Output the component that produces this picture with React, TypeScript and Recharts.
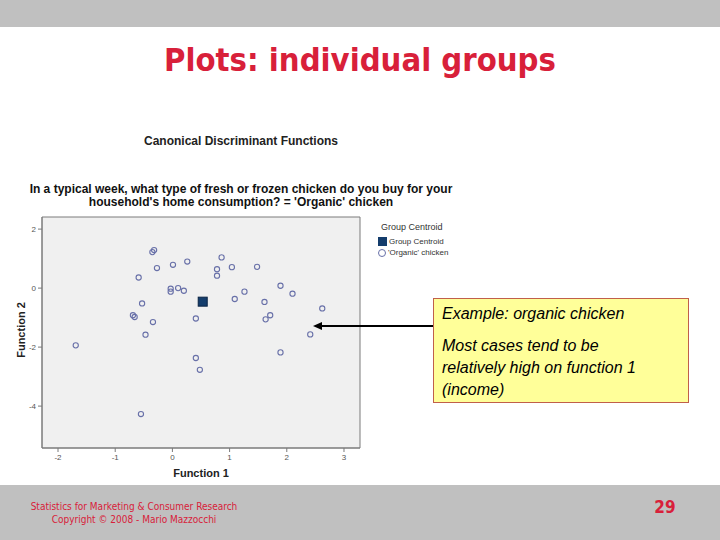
import React from "react";
import {
  ScatterChart,
  Scatter,
  XAxis,
  YAxis,
  ReferenceArea,
  Legend,
} from "recharts";

// canonical discriminant scores, 'Organic' chicken group
const function1 = [
  -0.35, -0.32, -0.27, 0.01, 0.26, 0.86, 0.78, 0.78, 1.04, 1.48, -0.59, -0.03,
  -0.03, 0.1, 0.2, 1.26, 1.09, 1.89, 2.1, -0.53, 1.61, 2.62, -0.69, -0.66,
  -0.34, 0.41, 1.63, 1.71, -0.47, 2.41, -1.69, 0.41, 0.48, 1.89, -0.55,
];
const function2 = [
  1.22, 1.29, 0.68, 0.79, 0.9, 1.04, 0.64, 0.42, 0.71, 0.72, 0.36, -0.02,
  -0.12, 0.0, -0.09, -0.12, -0.37, 0.08, -0.19, -0.52, -0.47, -0.69, -0.92,
  -0.98, -1.15, -1.03, -1.06, -0.92, -1.58, -1.57, -1.94, -2.37, -2.77, -2.18,
  -4.27,
];
const centroid = [{ x: 0.53, y: -0.46 }];

const xTicks = [-2, -1, 0, 1, 2, 3];
const yTicks = [-4, -2, 0, 2];

const cases = function1.map((x, i) => ({ x, y: function2[i] }));

const XMIN = -2.28;
const XMAX = 3.28;
const YMIN = -5.42;
const YMAX = 2.41;

const arial = "'Liberation Sans', Arial, sans-serif";
const tahoma = "'DejaVu Sans Condensed', Tahoma, sans-serif";
const red = "#d8203a";
const dotColor = "#6870a8";
const centroidColor = "#143d6c";

function CaseDot(props: any) {
  const { cx, cy } = props;
  return <circle cx={cx} cy={cy} r={2.6} fill="none" stroke={dotColor} strokeWidth={1.1} />;
}

function CentroidDot(props: any) {
  const { cx, cy } = props;
  return (
    <rect x={cx - 4.5} y={cy - 4.5} width={9} height={9} fill={centroidColor} stroke="#0b2445" strokeWidth={1} />
  );
}

function LegendBox() {
  return (
    <div style={{ fontFamily: arial, fontSize: 8, color: "#333", lineHeight: "11px", textAlign: "left" }}>
      <div style={{ fontSize: 9, marginBottom: 3, marginLeft: 3 }}>Group Centroid</div>
      <div style={{ display: "flex", alignItems: "center", gap: 2 }}>
        <span style={{ display: "inline-block", width: 9, height: 9, background: centroidColor }} />
        Group Centroid
      </div>
      <div style={{ display: "flex", alignItems: "center", gap: 2 }}>
        <span
          style={{
            display: "inline-block",
            width: 8,
            height: 8,
            borderRadius: "50%",
            border: `1px solid ${dotColor}`,
            boxSizing: "border-box",
          }}
        />
        'Organic' chicken
      </div>
    </div>
  );
}

export default function App() {
  return (
    <div
      style={{
        position: "absolute",
        left: 0,
        top: 0,
        width: 720,
        height: 540,
        background: "#fff",
        overflow: "hidden",
        fontFamily: arial,
      }}
    >
      <div style={{ position: "absolute", left: 0, top: 0, width: 720, height: 27, background: "#c0c0c0" }} />
      <div
        style={{
          position: "absolute",
          left: 0,
          top: 39,
          width: 720,
          textAlign: "center",
          color: red,
          fontFamily: tahoma,
          fontWeight: "bold",
          fontSize: 32.5,
          lineHeight: "42px",
        }}
      >
        Plots: individual groups
      </div>

      <div
        style={{
          position: "absolute",
          left: 0,
          top: 134,
          width: 482,
          textAlign: "center",
          fontSize: 12,
          fontWeight: "bold",
          color: "#222",
        }}
      >
        Canonical Discriminant Functions
      </div>
      <div
        style={{
          position: "absolute",
          left: 0,
          top: 183,
          width: 482,
          textAlign: "center",
          fontSize: 12,
          fontWeight: "bold",
          color: "#111",
          lineHeight: "13px",
        }}
      >
        In a typical week, what type of fresh or frozen chicken do you buy for your
        <br />
        household's home consumption? = 'Organic' chicken
      </div>

      <div style={{ position: "absolute", left: 0, top: 0 }}>
        <ScatterChart width={720} height={540} margin={{ top: 217, right: 360, bottom: 72, left: 12 }}>
          <ReferenceArea
            x1={XMIN}
            x2={XMAX}
            y1={YMIN}
            y2={YMAX}
            fill="#f0f0f0"
            fillOpacity={1}
            stroke="#7a7a7a"
            strokeOpacity={1}
          />
          <XAxis
            type="number"
            dataKey="x"
            domain={[XMIN, XMAX]}
            ticks={xTicks}
            allowDataOverflow
            height={20}
            tickSize={4}
            axisLine={{ stroke: "#7a7a7a" }}
            tickLine={{ stroke: "#7a7a7a" }}
            tick={{ fontSize: 8, fill: "#555", fontFamily: arial }}
          />
          <YAxis
            type="number"
            dataKey="y"
            domain={[YMIN, YMAX]}
            ticks={yTicks}
            allowDataOverflow
            width={30}
            tickSize={4}
            axisLine={{ stroke: "#7a7a7a" }}
            tickLine={{ stroke: "#7a7a7a" }}
            tick={{ fontSize: 8, fill: "#555", fontFamily: arial }}
          />
          <Legend
            layout="vertical"
            verticalAlign="middle"
            align="center"
            content={() => <LegendBox />}
            wrapperStyle={{ position: "absolute", left: 378, top: 222, width: 100 }}
          />
          <Scatter name="Group Centroid" data={centroid} shape={CentroidDot} isAnimationActive={false} />
          <Scatter name="'Organic' chicken" data={cases} shape={CaseDot} isAnimationActive={false} />
        </ScatterChart>
      </div>

      <div
        style={{
          position: "absolute",
          left: 21,
          top: 330,
          transform: "translate(-50%, -50%) rotate(-90deg)",
          transformOrigin: "center",
          fontSize: 11,
          fontWeight: "bold",
          color: "#222",
          whiteSpace: "nowrap",
        }}
      >
        Function 2
      </div>
      <div
        style={{
          position: "absolute",
          left: 42,
          top: 467,
          width: 318,
          textAlign: "center",
          fontSize: 11,
          fontWeight: "bold",
          color: "#222",
        }}
      >
        Function 1
      </div>

      <svg style={{ position: "absolute", left: 0, top: 0 }} width={720} height={540}>
        <line x1={433} y1={326} x2={318} y2={326} stroke="#000" strokeWidth={2} />
        <path d="M313,326 L322,322 L322,330 Z" fill="#000" />
      </svg>

      <div
        style={{
          position: "absolute",
          left: 433,
          top: 298,
          width: 256,
          height: 105,
          boxSizing: "border-box",
          background: "#ffff99",
          border: "1px solid #c0604a",
          padding: "4px 0 0 8px",
          fontStyle: "italic",
          fontSize: 16,
          color: "#000",
          lineHeight: "22px",
        }}
      >
        <div style={{ marginBottom: 10 }}>Example: organic chicken</div>
        <div>
          Most cases tend to be
          <br />
          relatively high on function 1
          <br />
          (income)
        </div>
      </div>

      <div style={{ position: "absolute", left: 0, top: 485, width: 720, height: 55, background: "#c0c0c0" }} />
      <div
        style={{
          position: "absolute",
          left: 14,
          top: 500,
          width: 240,
          textAlign: "center",
          color: red,
          fontFamily: tahoma,
          fontSize: 10,
          lineHeight: "13px",
        }}
      >
        Statistics for Marketing &amp; Consumer Research
        <br />
        Copyright © 2008 - Mario Mazzocchi
      </div>
      <div
        style={{
          position: "absolute",
          left: 640,
          top: 497,
          width: 50,
          textAlign: "center",
          color: red,
          fontFamily: tahoma,
          fontWeight: "bold",
          fontSize: 17,
        }}
      >
        29
      </div>
    </div>
  );
}
